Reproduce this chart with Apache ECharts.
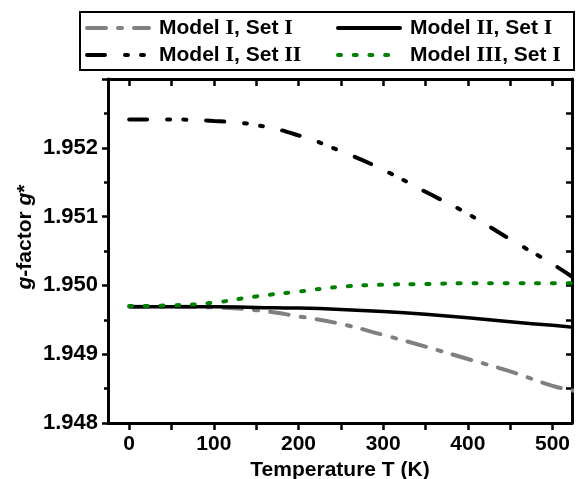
<!DOCTYPE html>
<html>
<head>
<meta charset="utf-8">
<script src="https://cdn.jsdelivr.net/npm/echarts@6/dist/echarts.min.js"></script>
<style>
  html, body { margin: 0; padding: 0; background: #fff; }
  #chart { width: 579px; height: 479px; }
</style>
</head>
<body>
<div id="chart"></div>
<script>
// temperature (K)
var temps = [0, 50, 100, 150, 200, 250, 300, 350, 400, 450, 500, 525];
// g-factor values
var model1set1 = [1.94969, 1.94969, 1.94968, 1.94964, 1.94955, 1.94944, 1.94928, 1.94911, 1.94893, 1.94875, 1.94854, 1.94847];
var model1set2 = [1.95241, 1.95241, 1.95239, 1.95233, 1.95218, 1.95195, 1.95168, 1.95136, 1.95104, 1.95067, 1.95031, 1.95011];
var model2set1 = [1.94969, 1.94969, 1.94969, 1.94968, 1.94967, 1.94965, 1.94962, 1.94958, 1.94953, 1.94947, 1.94942, 1.94939];
var model3set1 = [1.94970, 1.94971, 1.94975, 1.94984, 1.94991, 1.94998, 1.95001, 1.95002, 1.95003, 1.95003, 1.95003, 1.95003];

var xLabels = [0, 100, 200, 300, 400, 500];
var xTicks = [0, 50, 100, 150, 200, 250, 300, 350, 400, 450, 500];
var yRightTicks = [1.948, 1.9485, 1.949, 1.9495, 1.95, 1.9505, 1.951, 1.9515, 1.952, 1.9525];

function pairs(ys) {
    var out = [];
    for (var i = 0; i < temps.length; i++) out.push([temps[i], ys[i]]);
    return out;
}

var font = '"Liberation Sans", Arial, sans-serif';
var serif = '"Liberation Serif", "Times New Roman", serif';

var chart = echarts.init(document.getElementById('chart'));

var legendPos = [
    {name: 'Model I, Set I', left: 85, top: 17},
    {name: 'Model I, Set II', left: 85, top: 44},
    {name: 'Model II, Set I', left: 336, top: 17},
    {name: 'Model III, Set I', left: 336, top: 44}
];

var option = {
    animation: false,
    backgroundColor: '#fff',
    grid: {left: 108, right: 7, top: 79, bottom: 56, outerBoundsMode: 'none'},
    legend: legendPos.map(function (p) {
        return {
            data: [p.name],
            left: p.left,
            top: p.top,
            padding: 0,
            itemWidth: 62,
            itemHeight: 14,
            itemStyle: {opacity: 0},
            lineStyle: {width: 4, cap: 'round'},
            formatter: function (name) {
                return name.replace(/\b(I+)\b/g, '{r|$1}');
            },
            textStyle: {
                fontFamily: font,
                fontWeight: 'bold',
                fontSize: 21,
                color: '#000',
                padding: [0, 0, 0, 5],
                rich: {
                    r: {fontFamily: serif, fontWeight: 'bold', fontSize: 22, color: '#000'}
                }
            }
        };
    }),
    graphic: [{
        type: 'rect',
        shape: {x: 80, y: 12, width: 494, height: 58},
        style: {fill: 'none', stroke: '#000', lineWidth: 2}
    }],
    xAxis: [{
        type: 'value',
        min: -25,
        max: 523,
        position: 'bottom',
        name: 'Temperature T (K)',
        nameLocation: 'middle',
        nameGap: 36,
        nameTextStyle: {fontFamily: font, fontWeight: 'bold', fontSize: 21, color: '#000'},
        axisLine: {onZero: false, lineStyle: {color: '#000', width: 3}},
        axisTick: {customValues: xTicks, length: 7, lineStyle: {width: 2.5, color: '#000'}},
        axisLabel: {customValues: xLabels, fontFamily: font, fontWeight: 'bold', fontSize: 21, color: '#000', margin: 11},
        splitLine: {show: false}
    }, {
        type: 'value',
        min: -25,
        max: 523,
        position: 'top',
        axisLine: {onZero: false, lineStyle: {color: '#000', width: 3}},
        axisTick: {inside: true, customValues: xTicks, length: 7, lineStyle: {width: 2.5, color: '#000'}},
        axisLabel: {show: false},
        splitLine: {show: false}
    }],
    yAxis: [{
        type: 'value',
        min: 1.948,
        max: 1.953,
        interval: 0.001,
        position: 'left',
        name: '{i|g}-factor {i|g}*',
        nameLocation: 'middle',
        nameGap: 72,
        nameMoveOverlap: false,
        nameTextStyle: {
            fontFamily: font, fontWeight: 'bold', fontSize: 21, color: '#000',
            padding: [0, 0, 0, 28],
            rich: {i: {fontFamily: font, fontWeight: 'bold', fontStyle: 'italic', fontSize: 21, color: '#000'}}
        },
        axisLine: {onZero: false, lineStyle: {color: '#000', width: 3}},
        axisTick: {length: 6, lineStyle: {width: 2.5, color: '#000'}},
        minorTick: {show: true, splitNumber: 2, length: 4, lineStyle: {width: 2.5, color: '#000'}},
        axisLabel: {
            fontFamily: font, fontWeight: 'bold', fontSize: 22, color: '#000', margin: 10,
            showMaxLabel: false,
            formatter: function (v) { return v.toFixed(3); }
        },
        splitLine: {show: false}
    }, {
        type: 'value',
        min: 1.948,
        max: 1.953,
        position: 'right',
        axisLine: {onZero: false, lineStyle: {color: '#000', width: 3}},
        axisTick: {inside: true, customValues: yRightTicks, length: 6, lineStyle: {width: 2.5, color: '#000'}},
        axisLabel: {show: false},
        splitLine: {show: false}
    }],
    series: [{
        name: 'Model I, Set I',
        type: 'line',
        smooth: true,
        symbol: 'none',
        data: pairs(model1set1),
        lineStyle: {color: '#808080', width: 4, type: [19, 12, 4, 12], cap: 'round'},
        itemStyle: {color: '#808080'},
        z: 2
    }, {
        name: 'Model I, Set II',
        type: 'line',
        smooth: true,
        symbol: 'none',
        data: pairs(model1set2),
        lineStyle: {color: '#000', width: 4, type: [18, 20, 3, 13, 3, 20], cap: 'round'},
        itemStyle: {color: '#000'},
        z: 2
    }, {
        name: 'Model II, Set I',
        type: 'line',
        smooth: true,
        symbol: 'none',
        data: pairs(model2set1),
        lineStyle: {color: '#000', width: 3.5},
        itemStyle: {color: '#000'},
        z: 3
    }, {
        name: 'Model III, Set I',
        type: 'line',
        smooth: true,
        symbol: 'none',
        data: pairs(model3set1),
        lineStyle: {color: '#008000', width: 4, type: [3, 12.7], cap: 'round'},
        itemStyle: {color: '#008000'},
        z: 4
    }]
};

chart.setOption(option);
</script>
</body>
</html>
